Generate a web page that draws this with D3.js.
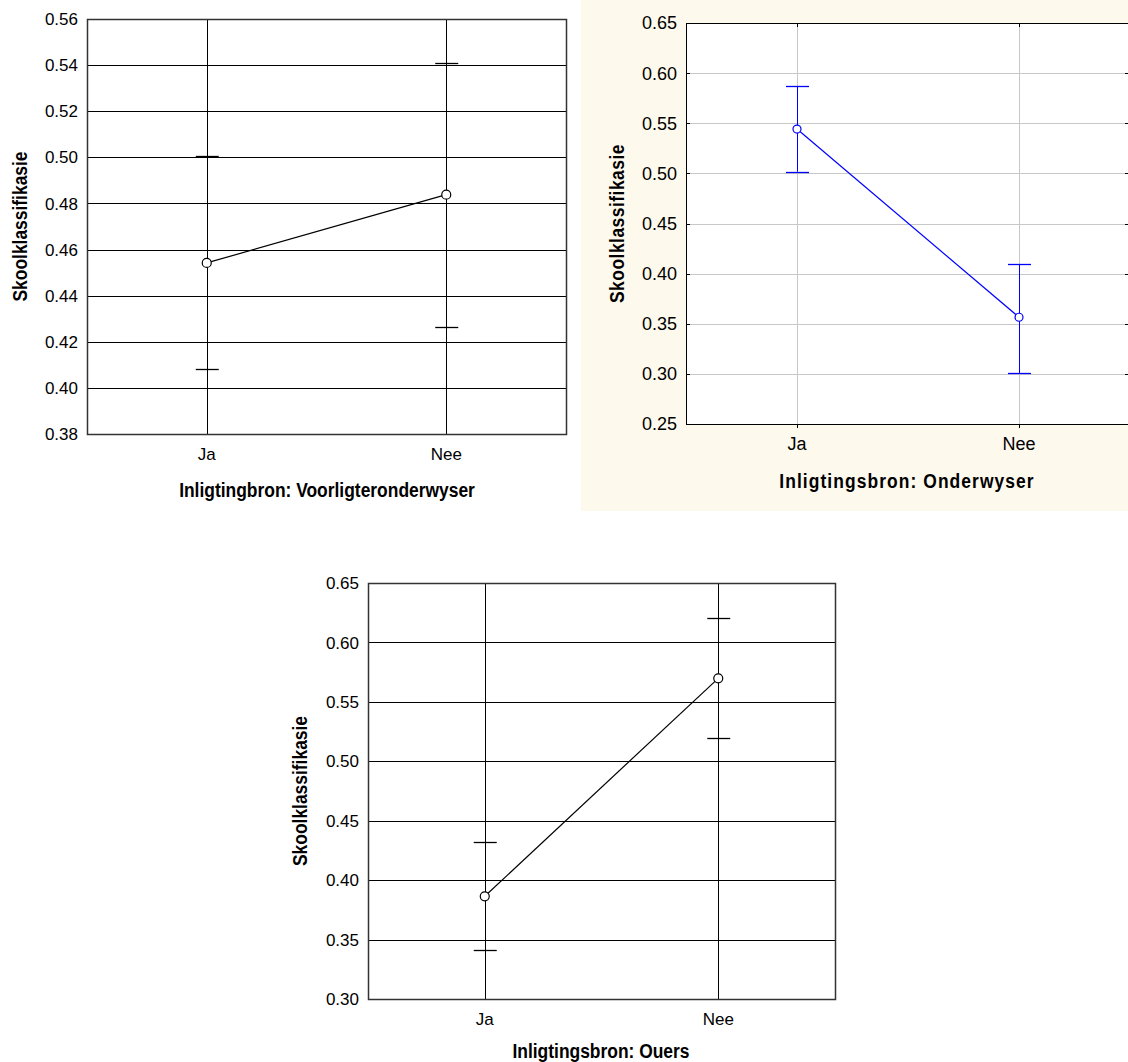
<!DOCTYPE html>
<html>
<head>
<meta charset="utf-8">
<script src="https://cdn.jsdelivr.net/npm/d3@7"></script>
<style>
  body { margin: 0; background: #fff; }
  svg { display: block; }
</style>
</head>
<body>
<div id="chart"></div>
<script>
// categories on x
const categories = ["Ja", "Nee"];

// Voorligteronderwyser (top left)
const voorligMean  = [0.4542, 0.4838];
const voorligLower = [0.4081, 0.4266];
const voorligUpper = [0.5004, 0.5409];
const voorligTicks = [0.38, 0.40, 0.42, 0.44, 0.46, 0.48, 0.50, 0.52, 0.54, 0.56];

// Onderwyser (top right)
const onderMean  = [0.5442, 0.3565];
const onderLower = [0.5017, 0.3004];
const onderUpper = [0.5870, 0.4092];
const onderTicks = [0.25, 0.30, 0.35, 0.40, 0.45, 0.50, 0.55, 0.60, 0.65];

// Ouers (bottom)
const ouersMean  = [0.3864, 0.5698];
const ouersLower = [0.3415, 0.5193];
const ouersUpper = [0.4318, 0.6203];
const ouersTicks = [0.30, 0.35, 0.40, 0.45, 0.50, 0.55, 0.60, 0.65];

const W = 1128, H = 1062;
const svg = d3.select("#chart").append("svg")
  .attr("width", W)
  .attr("height", H);

// cream backdrop behind the second chart
svg.append("rect")
  .attr("x", 581).attr("y", 0)
  .attr("width", W - 581).attr("height", 511)
  .attr("fill", "#fef9ed");

const tickFont = "'Liberation Sans', Arial, sans-serif";
const titleFont = "'Liberation Sans', Arial, sans-serif";
const squeeze = 0.83; // titles use a narrow bold face in the original

function drawPanel(p) {
  const g = svg.append("g");

  const x = d3.scalePoint()
    .domain(categories)
    .range([p.left, p.right])
    .padding(0.5);

  const y = d3.scaleLinear()
    .domain(d3.extent(p.ticks))
    .range([p.bottom, p.top]);

  // white plot area
  g.append("rect")
    .attr("x", p.left).attr("y", p.top)
    .attr("width", p.right - p.left).attr("height", p.bottom - p.top)
    .attr("fill", "#fff");

  // horizontal grid
  g.selectAll(".hgrid")
    .data(p.ticks.slice(1, -1))
    .enter().append("line")
    .attr("x1", p.left).attr("x2", p.right)
    .attr("y1", d => Math.round(y(d)) + 0.5)
    .attr("y2", d => Math.round(y(d)) + 0.5)
    .attr("stroke", p.grid)
    .attr("stroke-width", 1);

  // vertical grid at categories
  g.selectAll(".vgrid")
    .data(categories)
    .enter().append("line")
    .attr("x1", d => Math.round(x(d)) + 0.5)
    .attr("x2", d => Math.round(x(d)) + 0.5)
    .attr("y1", p.top).attr("y2", p.bottom)
    .attr("stroke", p.grid)
    .attr("stroke-width", 1);

  // small inward ticks (only visible on the light-grid chart)
  if (p.inTicks) {
    g.selectAll(".ltick")
      .data(p.ticks)
      .enter().append("line")
      .attr("x1", p.left).attr("x2", p.left + 4)
      .attr("y1", d => Math.round(y(d)) + 0.5)
      .attr("y2", d => Math.round(y(d)) + 0.5)
      .attr("stroke", "#000");
    g.selectAll(".rtick")
      .data(p.ticks)
      .enter().append("line")
      .attr("x1", p.right - 5).attr("x2", p.right)
      .attr("y1", d => Math.round(y(d)) + 0.5)
      .attr("y2", d => Math.round(y(d)) + 0.5)
      .attr("stroke", "#000");
    g.selectAll(".ttick")
      .data(categories)
      .enter().append("line")
      .attr("x1", d => Math.round(x(d)) + 0.5)
      .attr("x2", d => Math.round(x(d)) + 0.5)
      .attr("y1", p.top).attr("y2", p.top + 4)
      .attr("stroke", "#000");
    g.selectAll(".btick")
      .data(categories)
      .enter().append("line")
      .attr("x1", d => Math.round(x(d)) + 0.5)
      .attr("x2", d => Math.round(x(d)) + 0.5)
      .attr("y1", p.bottom).attr("y2", p.bottom + 4)
      .attr("stroke", "#000");
  }

  // frame
  g.append("rect")
    .attr("x", p.left + 0.5).attr("y", p.top + 0.5)
    .attr("width", p.right - p.left).attr("height", p.bottom - p.top)
    .attr("fill", "none")
    .attr("stroke", p.frame)
    .attr("stroke-width", p.frameWidth);

  // y tick labels
  g.selectAll(".ylab")
    .data(p.ticks)
    .enter().append("text")
    .attr("x", p.left - 9)
    .attr("y", d => y(d))
    .attr("dy", "0.36em")
    .attr("text-anchor", "end")
    .style("font-family", tickFont)
    .style("font-size", p.tickSize)
    .attr("fill", "#000")
    .text(d => d.toFixed(2));

  // x tick labels
  g.selectAll(".xlab")
    .data(categories)
    .enter().append("text")
    .attr("x", d => x(d))
    .attr("y", p.bottom + 26)
    .attr("text-anchor", "middle")
    .style("font-family", tickFont)
    .style("font-size", p.tickSize)
    .attr("fill", "#000")
    .text(d => d);

  // axis titles (squeezed horizontally)
  g.append("g")
    .attr("transform", "translate(" + p.xTitleX + "," + p.xTitleY + ") scale(" + squeeze + ",1)")
    .append("text")
    .attr("text-anchor", "middle")
    .style("font-family", titleFont)
    .style("font-weight", "bold")
    .style("font-size", "21px")
    .style("letter-spacing", p.titleSpacing || "0px")
    .attr("fill", "#000")
    .text(p.xTitle);

  g.append("g")
    .attr("transform", "translate(" + p.yTitleX + "," + ((p.top + p.bottom) / 2) + ") rotate(-90) scale(" + squeeze + ",1)")
    .append("text")
    .attr("text-anchor", "middle")
    .attr("dy", "0.36em")
    .style("font-family", titleFont)
    .style("font-weight", "bold")
    .style("font-size", "21px")
    .style("letter-spacing", p.yTitleSpacing || "0px")
    .attr("fill", "#000")
    .text("Skoolklassifikasie");

  // error bars
  const rows = categories.map((c, i) => ({ c: c, m: p.mean[i], lo: p.lower[i], hi: p.upper[i] }));

  g.selectAll(".whisker")
    .data(rows)
    .enter().append("line")
    .attr("x1", d => Math.round(x(d.c)) + 0.5)
    .attr("x2", d => Math.round(x(d.c)) + 0.5)
    .attr("y1", d => y(d.lo))
    .attr("y2", d => y(d.hi))
    .attr("stroke", p.color);

  ["lo", "hi"].forEach(k => {
    g.selectAll(".cap-" + k)
      .data(rows)
      .enter().append("line")
      .attr("x1", d => x(d.c) - 11)
      .attr("x2", d => x(d.c) + 12)
      .attr("y1", d => Math.round(y(d[k])) + 0.5)
      .attr("y2", d => Math.round(y(d[k])) + 0.5)
      .attr("stroke", p.color)
      .attr("stroke-width", 1.3);
  });

  // mean line + points
  const line = d3.line()
    .x(d => x(d.c))
    .y(d => y(d.m));

  g.append("path")
    .datum(rows)
    .attr("d", line)
    .attr("fill", "none")
    .attr("stroke", p.color)
    .attr("stroke-width", 1.2);

  g.selectAll(".pt")
    .data(rows)
    .enter().append("circle")
    .attr("cx", d => x(d.c))
    .attr("cy", d => y(d.m))
    .attr("r", p.r)
    .attr("fill", "#fff")
    .attr("stroke", p.color)
    .attr("stroke-width", 1.2);
}

drawPanel({
  left: 87, right: 566, top: 19, bottom: 434,
  ticks: voorligTicks, mean: voorligMean, lower: voorligLower, upper: voorligUpper,
  grid: "#000", frame: "#333", frameWidth: 1.5, color: "#000", r: 4.5, tickSize: "17px",
  xTitle: "Inligtingbron: Voorligteronderwyser", xTitleX: 327, xTitleY: 497, yTitleX: 19
});

drawPanel({
  left: 686, right: 1130, top: 23, bottom: 424,
  ticks: onderTicks, mean: onderMean, lower: onderLower, upper: onderUpper,
  grid: "#c8c8c8", frame: "#000", frameWidth: 1, color: "#0000ff", r: 4, tickSize: "18px",
  inTicks: true, titleSpacing: "1.3px", yTitleSpacing: "0.6px",
  xTitle: "Inligtingsbron: Onderwyser", xTitleX: 907, xTitleY: 488, yTitleX: 616
});

drawPanel({
  left: 368, right: 835, top: 583, bottom: 999,
  ticks: ouersTicks, mean: ouersMean, lower: ouersLower, upper: ouersUpper,
  grid: "#000", frame: "#333", frameWidth: 1.5, color: "#000", r: 4.5, tickSize: "17px",
  xTitle: "Inligtingsbron: Ouers", xTitleX: 601, xTitleY: 1058, yTitleX: 299
});
</script>
</body>
</html>
